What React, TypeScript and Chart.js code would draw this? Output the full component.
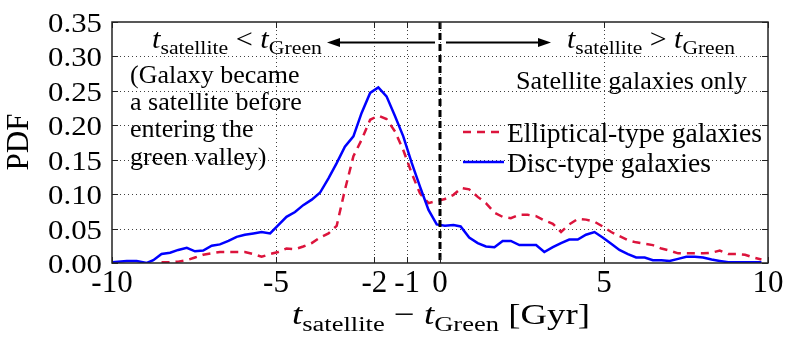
import React, { useEffect, useRef } from "react";
import { Chart, registerables } from "chart.js";

Chart.register(...registerables);

// ---------- data ----------
const discX = [
  -10, -9.55, -9.25, -8.94, -8.74, -8.49, -8.23, -7.98, -7.72, -7.47, -7.22, -6.96, -6.71, -6.45, -6.2,
  -5.95, -5.69, -5.44, -5.18, -4.93, -4.68, -4.42, -4.17, -3.91, -3.66, -3.4, -3.15, -2.9, -2.64, -2.39,
  -2.13, -1.88, -1.63, -1.37, -1.12, -0.86, -0.61, -0.35, -0.1, 0.15, 0.41, 0.63, 0.89, 1.15, 1.4,
  1.66, 1.91, 2.16, 2.42, 2.67, 2.93, 3.18, 3.44, 3.69, 3.94, 4.2, 4.45, 4.71, 4.96, 5.22,
  5.47, 5.73, 5.98, 6.24, 6.49, 6.75, 7.0, 7.26, 7.51, 7.77, 8.02, 8.28, 8.53, 8.79, 9.04,
  9.3, 9.55, 9.8,
];
const discY = [
  0.001, 0.003, 0.003, 0.0, 0.004, 0.013, 0.015, 0.019, 0.022, 0.017, 0.018, 0.025, 0.027, 0.032, 0.038,
  0.041, 0.043, 0.045, 0.043, 0.055, 0.067, 0.074, 0.084, 0.092, 0.102, 0.123, 0.145, 0.169, 0.184, 0.218,
  0.247, 0.255, 0.242, 0.213, 0.184, 0.145, 0.111, 0.077, 0.056, 0.054, 0.055, 0.053, 0.037, 0.029, 0.024,
  0.023, 0.032, 0.032, 0.026, 0.026, 0.026, 0.016, 0.023, 0.029, 0.034, 0.034, 0.041, 0.045, 0.037, 0.028,
  0.019, 0.013, 0.008, 0.008, 0.004, 0.004, 0.003, 0.006, 0.009, 0.009, 0.008, 0.005, 0.003, 0.001, 0.001,
  0.001, 0.001, 0.001,
];
const ellX = [
  -8.49, -8.23, -7.98, -7.72, -7.47, -7.22, -6.96, -6.71, -6.45, -6.2, -5.95, -5.69, -5.44, -5.18, -4.93,
  -4.68, -4.42, -4.17, -3.91, -3.66, -3.4, -3.15, -2.9, -2.64, -2.39, -2.13, -1.88, -1.63, -1.37, -1.12,
  -0.86, -0.61, -0.35, -0.1, 0.15, 0.41, 0.66, 0.89, 1.15, 1.4, 1.66, 1.91, 2.16, 2.42, 2.67,
  2.93, 3.18, 3.44, 3.69, 3.94, 4.2, 4.45, 4.71, 4.96, 5.22, 5.47, 5.73, 5.98, 6.24, 6.49,
  6.75, 7.0, 7.26, 7.51, 7.77, 8.02, 8.28, 8.53, 8.79, 9.04, 9.3, 9.55, 9.8,
];
const ellY = [
  0.001, 0.001, 0.002, 0.004, 0.008, 0.012, 0.014, 0.016, 0.016, 0.016, 0.016, 0.013, 0.009, 0.013, 0.016,
  0.021, 0.02, 0.024, 0.029, 0.037, 0.043, 0.054, 0.106, 0.155, 0.179, 0.208, 0.214, 0.209, 0.191, 0.164,
  0.13, 0.101, 0.087, 0.09, 0.093, 0.099, 0.109, 0.107, 0.096, 0.087, 0.073, 0.067, 0.065, 0.07, 0.07,
  0.068, 0.062, 0.057, 0.045, 0.056, 0.064, 0.063, 0.06, 0.053, 0.045, 0.039, 0.033, 0.03, 0.028, 0.026,
  0.021, 0.018, 0.014, 0.014, 0.014, 0.014, 0.015, 0.018, 0.013, 0.013, 0.012, 0.008, 0.005,
];
const xTickValues = [-10, -5, -2, -1, 0, 5, 10];
const xTickLabels = ["-10", "-5", "-2", "-1", "0", "5", "10"];
const yTickValues = [0, 0.05, 0.1, 0.15, 0.2, 0.25, 0.3, 0.35];
const yTickLabels = ["0.00", "0.05", "0.10", "0.15", "0.20", "0.25", "0.30", "0.35"];
const seriesNames = ["Elliptical-type galaxies", "Disc-type galaxies"];
const markerX = 0;
const noteLines = ["(Galaxy became", "a satellite before", "entering the", "green valley)"];
const subsetNote = "Satellite galaxies only";

// ---------- styling ----------
const SERIF = '"Liberation Serif", "Times New Roman", serif';
const RED = "#dc143c";
const BLUE = "#0000ff";

type Part = { t: string; it?: boolean; sub?: boolean };

function fontFor(p: Part, size: number) {
  const s = p.sub ? size * 0.72 : size;
  return `${p.it ? "italic " : ""}${s}px ${SERIF}`;
}

function drawRich(
  ctx: CanvasRenderingContext2D,
  parts: Part[],
  x: number,
  baseline: number,
  size: number,
  align: "left" | "center" | "right",
  opts: { w?: number; sx?: number } = {}
) {
  ctx.save();
  const widths = parts.map((p) => {
    ctx.font = fontFor(p, size);
    return ctx.measureText(p.t).width;
  });
  const total = widths.reduce((a, b) => a + b, 0);
  const sx = opts.w ? opts.w / total : opts.sx ?? 1;
  const w = total * sx;
  const start = align === "left" ? x : align === "center" ? x - w / 2 : x - w;
  ctx.translate(start, baseline);
  ctx.scale(sx, 1);
  ctx.fillStyle = "#000";
  ctx.textAlign = "left";
  ctx.textBaseline = "alphabetic";
  let cx = 0;
  parts.forEach((p, i) => {
    ctx.font = fontFor(p, size);
    ctx.fillText(p.t, cx, p.sub ? size * 0.24 : 0);
    cx += widths[i];
  });
  ctx.restore();
}

function arrow(ctx: CanvasRenderingContext2D, x0: number, x1: number, y: number) {
  const dir = Math.sign(x1 - x0);
  ctx.save();
  ctx.strokeStyle = "#000";
  ctx.fillStyle = "#000";
  ctx.lineWidth = 2;
  ctx.beginPath();
  ctx.moveTo(x0, y);
  ctx.lineTo(x1 - dir * 8, y);
  ctx.stroke();
  ctx.beginPath();
  ctx.moveTo(x1, y);
  ctx.lineTo(x1 - dir * 13, y - 4.5);
  ctx.lineTo(x1 - dir * 13, y + 4.5);
  ctx.closePath();
  ctx.fill();
  ctx.restore();
}

const framePlugin = {
  id: "frameAndText",
  beforeDatasetsDraw(chart: any) {
    const { ctx, chartArea: a, scales } = chart;
    const xs = scales.x;
    const ys = scales.y;
    ctx.save();
    // dotted grid
    ctx.strokeStyle = "rgba(0,0,0,0.75)";
    ctx.lineWidth = 1;
    ctx.setLineDash([1, 3]);
    xTickValues.forEach((v) => {
      const px = Math.round(xs.getPixelForValue(v)) + 0.5;
      if (px <= a.left + 1 || px >= a.right - 1) return;
      ctx.beginPath();
      ctx.moveTo(px, a.top);
      ctx.lineTo(px, a.bottom);
      ctx.stroke();
    });
    yTickValues.forEach((v) => {
      const py = Math.round(ys.getPixelForValue(v)) + 0.5;
      if (py <= a.top + 1 || py >= a.bottom - 1) return;
      ctx.beginPath();
      ctx.moveTo(a.left, py);
      ctx.lineTo(a.right, py);
      ctx.stroke();
    });
    ctx.restore();
  },
  afterDatasetsDraw(chart: any) {
    const { ctx, chartArea: a, scales } = chart;
    const xs = scales.x;
    const ys = scales.y;

    // vertical dashed marker
    ctx.save();
    const mx = xs.getPixelForValue(markerX);
    ctx.strokeStyle = "#000";
    ctx.lineWidth = 3;
    ctx.setLineDash([7, 4]);
    ctx.beginPath();
    ctx.moveTo(mx, a.top);
    ctx.lineTo(mx, a.bottom);
    ctx.stroke();
    ctx.restore();

    // frame
    ctx.save();
    ctx.strokeStyle = "#222";
    ctx.lineWidth = 1.5;
    ctx.strokeRect(a.left, a.top, a.right - a.left, a.bottom - a.top);
    // inward ticks
    ctx.lineWidth = 1;
    const tl = 6;
    xTickValues.forEach((v) => {
      const px = Math.round(xs.getPixelForValue(v)) + 0.5;
      ctx.beginPath();
      ctx.moveTo(px, a.bottom);
      ctx.lineTo(px, a.bottom - tl);
      ctx.moveTo(px, a.top);
      ctx.lineTo(px, a.top + tl);
      ctx.stroke();
    });
    yTickValues.forEach((v) => {
      const py = Math.round(ys.getPixelForValue(v)) + 0.5;
      ctx.beginPath();
      ctx.moveTo(a.left, py);
      ctx.lineTo(a.left + tl, py);
      ctx.moveTo(a.right, py);
      ctx.lineTo(a.right - tl, py);
      ctx.stroke();
    });
    ctx.restore();

    // tick labels
    yTickValues.forEach((v, i) => {
      const py = ys.getPixelForValue(v);
      drawRich(ctx, [{ t: yTickLabels[i] }], a.left - 10, py + 10, 28, "right", { sx: 1.1 });
    });
    xTickValues.forEach((v, i) => {
      const px = xs.getPixelForValue(v);
      drawRich(ctx, [{ t: xTickLabels[i] }], px, 292, 31, "center");
    });

    // axis titles
    ctx.save();
    ctx.translate(28, 142);
    ctx.rotate(-Math.PI / 2);
    drawRich(ctx, [{ t: "PDF" }], 0, 0, 31, "center");
    ctx.restore();
    drawRich(
      ctx,
      [
        { t: "t", it: true },
        { t: "satellite", sub: true },
        { t: " \u2212 " },
        { t: "t", it: true },
        { t: "Green", sub: true },
        { t: " [Gyr]" },
      ],
      292,
      324,
      30,
      "left",
      { w: 298 }
    );

    // top annotations
    drawRich(
      ctx,
      [
        { t: "t", it: true },
        { t: "satellite", sub: true },
        { t: " < " },
        { t: "t", it: true },
        { t: "Green", sub: true },
      ],
      152,
      48,
      27,
      "left",
      { w: 170 }
    );
    arrow(ctx, 435, 327, 42.5);
    arrow(ctx, 446, 551, 42.5);
    drawRich(
      ctx,
      [
        { t: "t", it: true },
        { t: "satellite", sub: true },
        { t: " > " },
        { t: "t", it: true },
        { t: "Green", sub: true },
      ],
      567,
      48,
      27,
      "left",
      { w: 168 }
    );

    // left note
    const bases = [83, 110, 137, 165];
    noteLines.forEach((l, i) => drawRich(ctx, [{ t: l }], 130, bases[i], 26, "left"));
    drawRich(ctx, [{ t: subsetNote }], 516, 89, 26, "left", { w: 231 });

    // legend
    ctx.save();
    ctx.lineWidth = 2.5;
    ctx.strokeStyle = RED;
    ctx.setLineDash([8, 6]);
    ctx.beginPath();
    ctx.moveTo(463, 132);
    ctx.lineTo(504, 132);
    ctx.stroke();
    ctx.setLineDash([]);
    ctx.strokeStyle = BLUE;
    ctx.beginPath();
    ctx.moveTo(463, 162);
    ctx.lineTo(504, 162);
    ctx.stroke();
    ctx.restore();
    drawRich(ctx, [{ t: seriesNames[0] }], 507, 142, 27.5, "left", { w: 255 });
    drawRich(ctx, [{ t: seriesNames[1] }], 507, 172, 27.5, "left");
  },
};

export default function App() {
  const ref = useRef<HTMLCanvasElement | null>(null);
  useEffect(() => {
    if (!ref.current) return;
    const chart = new Chart(ref.current, {
      type: "line",
      data: {
        datasets: [
          {
            label: seriesNames[1],
            data: discX.map((x, i) => ({ x, y: discY[i] })),
            borderColor: BLUE,
            borderWidth: 2.5,
            pointRadius: 0,
            tension: 0,
            fill: false,
            order: 1,
          },
          {
            label: seriesNames[0],
            data: ellX.map((x, i) => ({ x, y: ellY[i] })),
            borderColor: RED,
            borderWidth: 2.5,
            borderDash: [8, 6],
            pointRadius: 0,
            tension: 0,
            fill: false,
            order: 2,
          },
        ],
      },
      options: {
        animation: false,
        responsive: false,
        maintainAspectRatio: false,
        devicePixelRatio: 1,
        layout: { padding: { left: 0, right: 32, top: 22, bottom: 0 } },
        plugins: { legend: { display: false }, tooltip: { enabled: false } },
        scales: {
          x: {
            type: "linear",
            min: -10,
            max: 10,
            afterBuildTicks: (s: any) => {
              s.ticks = xTickValues.map((v) => ({ value: v }));
            },
            afterFit: (s: any) => {
              s.height = 87;
            },
            ticks: { display: false },
            grid: { display: false },
            border: { display: false },
          },
          y: {
            type: "linear",
            min: 0,
            max: 0.35,
            afterBuildTicks: (s: any) => {
              s.ticks = yTickValues.map((v) => ({ value: v }));
            },
            afterFit: (s: any) => {
              s.width = 112;
            },
            ticks: { display: false },
            grid: { display: false },
            border: { display: false },
          },
        },
      },
      plugins: [framePlugin],
    } as any);
    return () => chart.destroy();
  }, []);
  return (
    <div style={{ position: "fixed", left: 0, top: 0, width: 800, height: 350, background: "#fff" }}>
      <canvas ref={ref} width={800} height={350} style={{ width: 800, height: 350, display: "block" }} />
    </div>
  );
}
